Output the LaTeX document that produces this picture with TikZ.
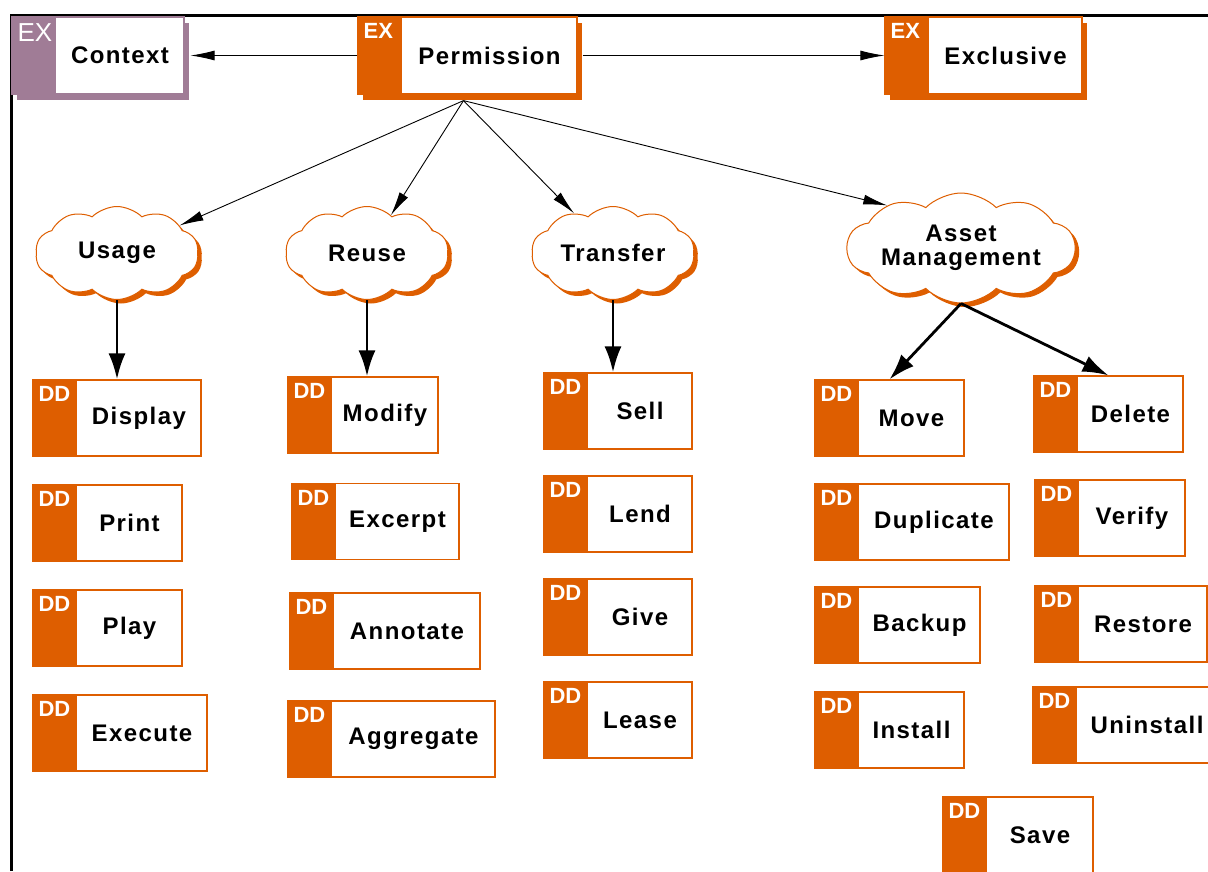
\documentclass[tikz,border=0pt]{standalone}
\usepackage{fontspec}
\usetikzlibrary{shapes.symbols, shadows, arrows.meta}
\newfontfamily\boxfamily[LetterSpace=6]{Liberation Sans}
\newfontfamily\tagfamily{Liberation Sans}
\definecolor{ddorange}{RGB}{222,94,0}
\definecolor{expurple}{RGB}{160,124,150}
\newcommand\bandpad{\hspace*{44pt}}
\newcommand\boxfont{\boxfamily\bfseries\fontsize{24}{24}\selectfont}
\newcommand\tagfont{\tagfamily\bfseries\fontsize{22}{22}\selectfont}
\tikzstyle{thin arrow} = [line width=0.9pt, -{Latex[length=24pt,width=10pt]}]
\tikzstyle{thick arrow} = [line width=2.8pt, -{Latex[length=26pt,width=17pt]}]
\tikzset{
  tag font/.store in=\tagfont,
  band/.style 2 args={path picture={
    \fill[#1] (path picture bounding box.north west) rectangle ([xshift=44pt]path picture bounding box.south west);
    \node[rectangle, anchor=north west, inner sep=0pt, minimum width=0pt, minimum height=0pt,
      draw=none, fill=none, text=white, font=\tagfont, /utils/exec={\let\bandpad\relax}]
      at ([xshift=5pt,yshift=-6pt]path picture bounding box.north west) {#2};}},
  box/.style={draw=#1, fill=white, line width=1.2pt, minimum height=76pt, inner sep=0pt,
    font=\boxfont, execute at begin node=\bandpad},
  ddbox/.style={box=ddorange, band={ddorange}{DD}, minimum width=#1},
  exbox/.style 2 args={box=#1, band={#1}{EX}, minimum width=#2, minimum height=77pt,
    general shadow={fill=#1, shadow xshift=5pt, shadow yshift=-6pt}},
  idea/.style 2 args={cloud, cloud puffs=10, cloud puff arc=90, cloud ignores aspect, draw=ddorange, fill=white,
    line width=1pt, font=\boxfont, align=center, inner sep=0pt, minimum width=#1, minimum height=#2,
    general shadow={fill=ddorange, shadow xshift=4pt, shadow yshift=-4pt}},
}

\begin{document}
\begin{tikzpicture}[x=1pt, y=-1pt]
  \useasboundingbox (0,0) rectangle (1208,871);
  \draw[line width=3pt] (11,871) -- (11,15) -- (1208,15);

  \node at (98,55.5) [exbox={expurple}{172}, tag font=\tagfamily\fontsize{26}{26}\selectfont] (context) {Context};
  \node at (467.5,55.5) [exbox={ddorange}{219}] (permission) {Permission};
  \node at (983.5,55.5) [exbox={ddorange}{197}] (exclusive) {Exclusive};

  \node at (117,253) [idea={163}{93}] (usage) {Usage};
  \node at (367,253) [idea={163}{93}] (reuse) {Reuse};
  \node at (613,253) [idea={163}{93}] (transfer) {Transfer};
  \node at (961,248) [idea={228}{110}] (asset) {Asset\\Management};

  \node at (117,418) [ddbox=168] (display) {Display};
  \node at (107.5,523) [ddbox=149] (print) {Print};
  \node at (107.5,628) [ddbox=149] (play) {Play};
  \node at (120,733) [ddbox=174] (execute) {Execute};

  \node at (363,415) [ddbox=150] (modify) {Modify};
  \node at (375.5,521.5) [ddbox=167] (excerpt) {Excerpt};
  \node at (385,631) [ddbox=190] (annotate) {Annotate};
  \node at (391.5,739) [ddbox=207] (aggregate) {Aggregate};

  \node at (618,411) [ddbox=148] (sell) {Sell};
  \node at (618,514) [ddbox=148] (lend) {Lend};
  \node at (618,617) [ddbox=148] (give) {Give};
  \node at (618,720) [ddbox=148] (lease) {Lease};

  \node at (889.5,418) [ddbox=149] (move) {Move};
  \node at (912,522) [ddbox=194] (duplicate) {Duplicate};
  \node at (897.5,625) [ddbox=165] (backup) {Backup};
  \node at (889.5,730) [ddbox=149] (install) {Install};
  \node at (1018,835) [ddbox=150] (save) {Save};

  \node at (1108.5,414) [ddbox=149] (delete) {Delete};
  \node at (1110,518) [ddbox=150] (verify) {Verify};
  \node at (1121,624) [ddbox=172] (restore) {Restore};
  \node at (1125,725) [ddbox=184] (uninstall) {Uninstall};

  \draw[thin arrow] (permission.west) -- ([xshift=6pt]context.east);
  \draw[thin arrow] ([xshift=5pt]permission.east) -- (exclusive.west);

  \draw[thin arrow] ([xshift=-4pt,yshift=-6pt]permission.south) -- (usage);
  \draw[thin arrow] ([xshift=-4pt,yshift=-6pt]permission.south) -- (reuse);
  \draw[thin arrow] ([xshift=-4pt,yshift=-6pt]permission.south) -- (transfer);
  \draw[thin arrow] ([xshift=-4pt,yshift=-6pt]permission.south) -- (asset.150);

  \draw[thick arrow] (usage) -- (usage |- display.north);
  \draw[thick arrow] (reuse) -- (reuse |- modify.north);
  \draw[thick arrow] (transfer) -- (transfer |- sell.north);
  \draw[thick arrow] (asset.south) -- (move.north);
  \draw[thick arrow] (asset.south) -- (delete.north);
\end{tikzpicture}
\end{document}
